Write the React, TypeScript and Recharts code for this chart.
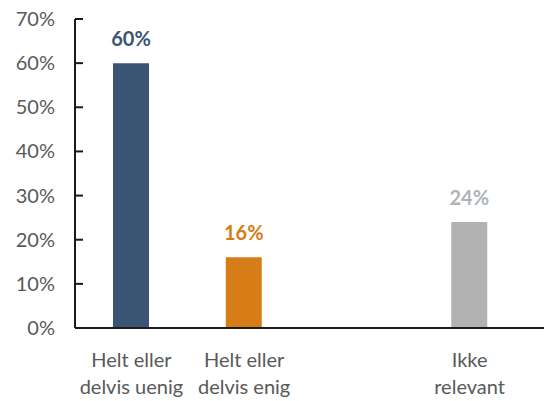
import { BarChart, Bar, XAxis, YAxis, Cell, LabelList } from 'recharts';

// Response categories; the blank slot keeps the gap before "Ikke relevant"
const categories: string[][] = [
    ['Helt eller', 'delvis uenig'],
    ['Helt eller', 'delvis enig'],
    [],
    ['Ikke', 'relevant'],
];
const shares: (number | null)[] = [0.6, 0.16, null, 0.24];
const barColors = ['#3A5573', '#D77D17', '#FFFFFF', '#B2B2B2'];
const labelColors = ['#3A5573', '#D77D17', '#FFFFFF', '#AEB3B8'];
const yTicks = [0, 0.1, 0.2, 0.3, 0.4, 0.5, 0.6, 0.7];

const data = categories.map((lines, i) => ({
    key: `c${i}`,
    lines,
    value: shares[i],
}));

const FONT = 'Lato, "Open Sans", sans-serif';
const TEXT = '#595959';
const AXIS = '#1a1a1a';

const pct = (v: number) => `${Math.round(v * 100)}%`;

function YTick(props: any) {
    const { x, y, payload } = props;
    // text sits 20px left of the axis; the tick mark points into the plot
    return (
        <g>
            <line x1={x + 20} x2={x + 28} y1={y} y2={y} stroke={AXIS} strokeWidth={2} />
            <text x={x} y={y} dy={7} textAnchor="end" fill={TEXT} fontSize={20} fontFamily={FONT}>
                {pct(payload.value)}
            </text>
        </g>
    );
}

function XTick(props: any) {
    const { x, y, index } = props;
    const lines = data[index]?.lines ?? [];
    return (
        <text x={x} y={y} textAnchor="middle" fill={TEXT} fontSize={20} fontFamily={FONT}>
            {lines.map((line, i) => (
                <tspan key={i} x={x} dy={i === 0 ? 39 : 27}>
                    {line}
                </tspan>
            ))}
        </text>
    );
}

function ValueLabel(props: any) {
    const { x, y, width, value } = props;
    if (value == null) return null;
    const i = shares.indexOf(value);
    return (
        <text
            x={x + width / 2}
            y={y - 17}
            textAnchor="middle"
            fill={labelColors[i]}
            fontSize={20}
            fontWeight={700}
            fontFamily={FONT}
        >
            {pct(value)}
        </text>
    );
}

export default function App() {
    return (
        <div style={{ position: 'absolute', left: 0, top: 0, width: 544, height: 401, background: '#fff' }}>
            <BarChart
                width={544}
                height={401}
                data={data}
                margin={{ top: 19, right: 0, bottom: 0, left: 0 }}
            >
                <XAxis
                    dataKey="key"
                    height={73}
                    padding={{ left: 0, right: 18 }}
                    axisLine={{ stroke: AXIS, strokeWidth: 2 }}
                    tickLine={false}
                    tickSize={0}
                    tickMargin={0}
                    tick={<XTick />}
                    interval={0}
                />
                <YAxis
                    width={75}
                    domain={[0, 0.7]}
                    ticks={yTicks}
                    axisLine={{ stroke: AXIS, strokeWidth: 2 }}
                    tickLine={false}
                    tickSize={0}
                    tickMargin={20}
                    tick={<YTick />}
                />
                <Bar dataKey="value" barSize={36} isAnimationActive={false}>
                    {data.map((d, i) => (
                        <Cell key={d.key} fill={barColors[i]} />
                    ))}
                    <LabelList dataKey="value" content={<ValueLabel />} />
                </Bar>
            </BarChart>
        </div>
    );
}
